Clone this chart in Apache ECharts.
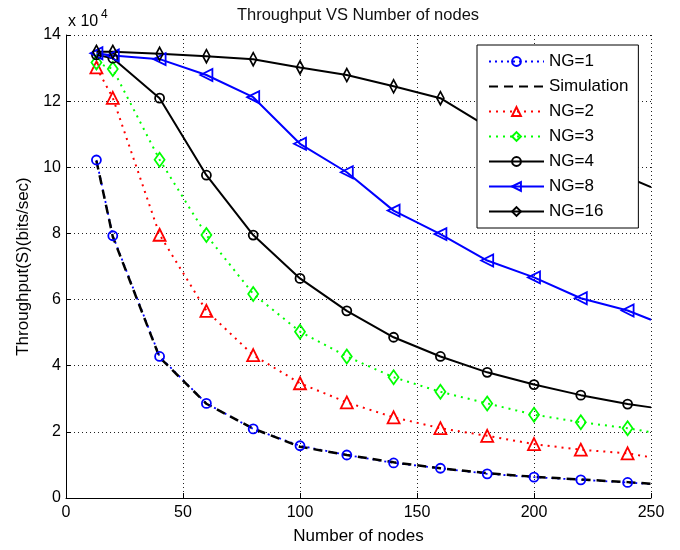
<!DOCTYPE html>
<html>
<head>
<meta charset="utf-8">
<script src="https://cdn.jsdelivr.net/npm/echarts@6/dist/echarts.min.js"></script>
<style>
html,body{margin:0;padding:0;background:#fff;}
#chart{width:680px;height:550px;}
</style>
</head>
<body>
<div id="chart"></div>
<script>
// Number of nodes at which markers are drawn; curves end at 250 (no marker)
const nodes = [13, 20, 40, 60, 80, 100, 120, 140, 160, 180, 200, 220, 240];
const endNode = 250;
// Throughput in bits/sec
const ng1        = [102200, 79300, 42800, 28600, 20900, 15800, 13000, 10600, 9000, 7300, 6300, 5500, 4700];
const ng1End     = 4200;
const simulation = [102000, 79000, 42500, 28500, 21000, 15500, 13000, 10800, 9000, 7500, 6400, 5600, 4800];
const simEnd     = 4300;
const ng2        = [130200, 121000, 79600, 56600, 43200, 34700, 28900, 24400, 21100, 18800, 16300, 14600, 13500];
const ng2End     = 12300;
const ng3        = [131700, 129700, 102300, 79500, 61700, 50300, 42800, 36500, 32100, 28600, 25200, 22900, 21100];
const ng3End     = 19900;
const ng4        = [134000, 133000, 120900, 97600, 79500, 66400, 56600, 48600, 42800, 38000, 34300, 31100, 28400];
const ng4End     = 27400;
const ng8        = [134500, 133800, 132700, 127900, 121200, 107100, 98500, 86900, 79800, 71800, 66700, 60400, 56700];
const ng8End     = 53900;
const ng16       = [134900, 134900, 134300, 133600, 132700, 130200, 127900, 124500, 120900, 112300, 106000, 101000, 97000];
const ng16End    = 94000;

const xTicks = [0, 50, 100, 150, 200, 250];
const yTickLabels = ['0', '2', '4', '6', '8', '10', '12', '14'];
const seriesNames = ['NG=1', 'Simulation', 'NG=2', 'NG=3', 'NG=4', 'NG=8', 'NG=16'];

function build(vals, endVal) {
  const d = nodes.map((x, i) => [x, vals[i]]);
  d.push({ value: [endNode, endVal], symbol: 'none' });
  return d;
}

const FONT = 'Liberation Sans, Arial, sans-serif';
const leftTri = 'path://M0,5 L10,0 L10,10 Z';

function mk(name, vals, endVal, color, lineType, width, symbol, symbolSize) {
  return {
    name: name,
    type: 'line',
    data: build(vals, endVal),
    symbol: symbol,
    symbolSize: symbolSize,
    showSymbol: symbol !== 'none',
    lineStyle: { color: color, width: width, type: lineType },
    itemStyle: { color: 'rgba(255,255,255,0)', borderColor: color, borderWidth: 1.8 },
    emphasis: { disabled: true },
    animation: false
  };
}

const chart = echarts.init(document.getElementById('chart'), null, { renderer: 'canvas' });
chart.setOption({
  backgroundColor: '#fff',
  animation: false,
  textStyle: { fontFamily: FONT },
  grid: { left: 66, right: 29, top: 35, bottom: 51, containLabel: false },
  graphic: [
    { type: 'text', style: { text: 'Throughput VS Number of nodes', x: 358, y: 15, textAlign: 'center', textVerticalAlign: 'middle', font: '16.5px ' + FONT, fill: '#111' }, z: 100 },
    { type: 'text', style: { text: 'x 10', x: 68, y: 22, textAlign: 'left', textVerticalAlign: 'middle', font: '16px ' + FONT, fill: '#000' }, z: 100 },
    { type: 'text', style: { text: '4', x: 101, y: 15, textAlign: 'left', textVerticalAlign: 'middle', font: '12px ' + FONT, fill: '#000' }, z: 100 }
  ],
  legend: {
    orient: 'vertical',
    left: 477,
    top: 45,
    data: seriesNames.map(n => n === 'Simulation'
      ? { name: n, itemStyle: { color: 'rgba(0,0,0,0)', borderColor: 'rgba(0,0,0,0)' } }
      : { name: n }),
    backgroundColor: '#fff',
    borderColor: '#000',
    borderWidth: 1,
    padding: [8, 10, 8, 11],
    itemWidth: 55,
    itemHeight: 11,
    itemGap: 8,
    textStyle: { fontSize: 17, color: '#000', fontFamily: FONT },
    selectedMode: false,
    z: 10
  },
  xAxis: {
    type: 'value',
    min: 0, max: 250, interval: 50,
    name: 'Number of nodes',
    nameLocation: 'middle',
    nameGap: 30,
    nameTextStyle: { fontSize: 17, color: '#000', fontFamily: FONT },
    axisLine: { show: true, lineStyle: { color: '#000', width: 1 } },
    axisTick: { show: true, inside: true, length: 5, lineStyle: { color: '#000' } },
    axisLabel: { fontSize: 16, color: '#000', margin: 7, fontFamily: FONT,
      formatter: v => xTicks.indexOf(v) >= 0 ? String(v) : '' },
    splitLine: { show: true, lineStyle: { color: '#222', width: 1, type: [1, 3] } }
  },
  yAxis: {
    type: 'value',
    min: 0, max: 140000, interval: 20000,
    name: 'Throughput(S)(bits/sec)',
    nameLocation: 'middle',
    nameRotate: 90,
    nameGap: 34,
    nameTextStyle: { fontSize: 17, color: '#000', fontFamily: FONT },
    axisLine: { show: true, lineStyle: { color: '#000', width: 1 } },
    axisTick: { show: true, inside: true, length: 5, lineStyle: { color: '#000' } },
    axisLabel: { fontSize: 16, color: '#000', margin: 5, fontFamily: FONT,
      formatter: v => yTickLabels[Math.round(v / 20000)] },
    splitLine: { show: true, lineStyle: { color: '#222', width: 1, type: [1, 3] } }
  },
  series: [
    mk('NG=1', ng1, ng1End, '#0000ff', [2, 4], 1.8, 'circle', 9),
    mk('Simulation', simulation, simEnd, '#000000', [9, 6], 2.5, 'none', 0),
    mk('NG=2', ng2, ng2End, '#ff0000', [2, 5], 2, 'triangle', 12),
    mk('NG=3', ng3, ng3End, '#00ff00', [2, 5], 2, 'diamond', [10, 14]),
    mk('NG=4', ng4, ng4End, '#000000', 'solid', 2, 'circle', 9),
    mk('NG=8', ng8, ng8End, '#0000ff', 'solid', 2, leftTri, 12),
    mk('NG=16', ng16, ng16End, '#000000', 'solid', 2, 'diamond', [7, 13])
  ]
});
</script>
</body>
</html>
